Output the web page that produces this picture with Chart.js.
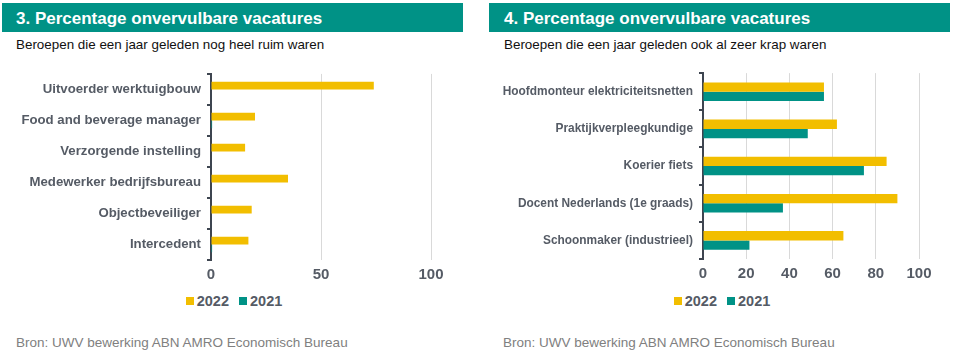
<!DOCTYPE html>
<html>
<head>
<meta charset="utf-8">
<script src="https://cdn.jsdelivr.net/npm/chart.js@4"></script>
<style>
  html, body { margin: 0; padding: 0; background: #fff; }
  body { width: 954px; height: 364px; position: relative; overflow: hidden;
         font-family: "Liberation Sans", Arial, sans-serif; }
  .head { position: absolute; top: 3px; height: 29px; background: #009286; color: #fff;
          font-weight: bold; font-size: 17px; line-height: 31px; box-sizing: border-box; }
  .sub { position: absolute; top: 37px; font-size: 13.4px; color: #111; }
  .src { position: absolute; top: 335px; font-size: 13.5px; color: #808080; }
  .wrap { position: absolute; top: 60px; width: 477px; height: 230px; }
  .legend { position: absolute; top: 292px; width: 300px; text-align: center;
            font-size: 14.5px; font-weight: bold; color: #555B65; line-height: 18px; }
  .legend span.item { display: inline-block; margin: 0 5px; }
  .legend i { display: inline-block; width: 8px; height: 8px; margin-right: 3px; vertical-align: 1px; }
</style>
</head>
<body>
<div class="head" style="left:2px;width:461px;padding-left:14px">3. Percentage onvervulbare vacatures</div>
<div class="sub" style="left:16px">Beroepen die een jaar geleden nog heel ruim waren</div>
<div class="wrap" style="left:0"><canvas id="c3"></canvas></div>
<div class="legend" id="l3" style="left:84px"></div>
<div class="src" style="left:16px">Bron: UWV bewerking ABN AMRO Economisch Bureau</div>

<div class="head" style="left:489px;width:461px;padding-left:15px">4. Percentage onvervulbare vacatures</div>
<div class="sub" style="left:504px">Beroepen die een jaar geleden ook al zeer krap waren</div>
<div class="wrap" style="left:477px"><canvas id="c4"></canvas></div>
<div class="legend" id="l4" style="left:572px"></div>
<div class="src" style="left:503px">Bron: UWV bewerking ABN AMRO Economisch Bureau</div>

<script>
// chart 3: jobs that were still very easy to fill a year ago
var labels3 = ['Uitvoerder werktuigbouw', 'Food and beverage manager', 'Verzorgende instelling',
               'Medewerker bedrijfsbureau', 'Objectbeveiliger', 'Intercedent'];
var y2022_3 = [74, 20, 15.5, 35, 18.5, 17];
var y2021_3 = [0, 0.5, 0, 0, 0, 0.5];
var ticks3 = [0, 50, 100];

// chart 4: jobs that were already very tight a year ago
var labels4 = ['Hoofdmonteur elektriciteitsnetten', 'Praktijkverpleegkundige', 'Koerier fiets',
               'Docent Nederlands (1e graads)', 'Schoonmaker (industrieel)'];
var y2022_4 = [56, 62, 85, 90, 65];
var y2021_4 = [56, 48.5, 74.5, 37, 21.5];
var ticks4 = [0, 20, 40, 60, 80, 100];

var seriesNames = ['2022', '2021'];
var GOLD = '#F2BE00', TEAL = '#009286';
var TEXT = '#555B65', AXIS = '#3E4550', GRID = '#D9D9D9';

// legend is plain html, fed from the chart's own datasets
function buildLegend(el, chart) {
  el.innerHTML = chart.data.datasets.map(function (ds) {
    return '<span class="item"><i style="background:' + ds.backgroundColor + '"></i>' + ds.label + '</span>';
  }).join('');
}

function makeChart(id, labels, a, b, tickVals, opts) {
  return new Chart(document.getElementById(id), {
    type: 'bar',
    data: {
      labels: labels,
      datasets: [
        { label: seriesNames[0], data: a, backgroundColor: GOLD },
        { label: seriesNames[1], data: b, backgroundColor: TEAL }
      ]
    },
    options: {
      indexAxis: 'y',
      responsive: true,
      maintainAspectRatio: false,
      animation: false,
      categoryPercentage: 0.5,
      barPercentage: 1,
      layout: { padding: { top: opts.top, right: opts.right, left: 0, bottom: 0 } },
      plugins: { tooltip: { enabled: false }, legend: { display: false } },
      scales: {
        x: {
          min: 0, max: 100,
          afterBuildTicks: function (s) { s.ticks = tickVals.map(function (v) { return { value: v }; }); },
          afterFit: function (s) { s.height = opts.xh; },
          grid: {
            color: function (c) { return c.tick && c.tick.value === 0 ? 'rgba(0,0,0,0)' : GRID; },
            drawTicks: false
          },
          border: { display: false },
          ticks: { padding: 6, color: TEXT, font: { family: 'Liberation Sans', size: 15, weight: 'bold' } }
        },
        y: {
          afterFit: function (s) { s.width = opts.axisX; },
          grid: { offset: true, drawOnChartArea: false, color: AXIS, lineWidth: 2, tickLength: 4 },
          border: { color: AXIS, width: 2 },
          ticks: { padding: 6, color: TEXT, font: { family: 'Liberation Sans', size: opts.labelSize, weight: 'bold' } }
        }
      }
    }
  });
}

var ch3 = makeChart('c3', labels3, y2022_3, y2021_3, ticks3, { top: 11, right: 46, axisX: 211, labelSize: 13.2, xh: 30 });
var ch4 = makeChart('c4', labels4, y2022_4, y2021_4, ticks4, { top: 9, right: 35, axisX: 226, labelSize: 11.9, xh: 31 });
buildLegend(document.getElementById('l3'), ch3);
buildLegend(document.getElementById('l4'), ch4);
</script>
</body>
</html>
